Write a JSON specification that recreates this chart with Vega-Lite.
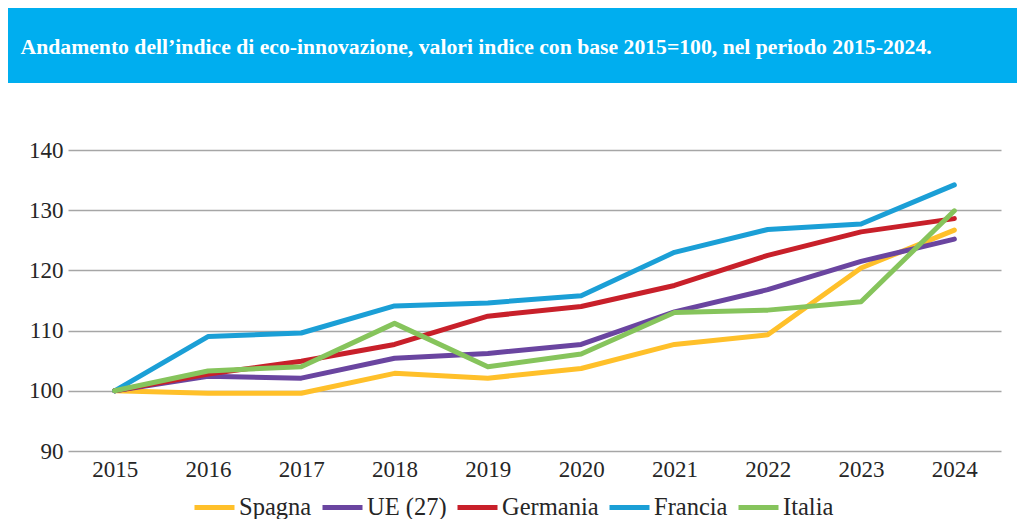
{
  "$schema": "https://vega.github.io/schema/vega-lite/v6.json",
  "padding": {"left": 8, "top": 8, "right": 0, "bottom": 0},
  "background": "white",
  "spacing": 56,
  "config": {"view": {"stroke": null}, "font": "Liberation Serif", "legend": {"layout": {"bottom": {"anchor": "middle"}}}},
  "vconcat": [
    {
      "width": 1009,
      "height": 75,
      "view": {"fill": "#00AEEF", "stroke": null},
      "data": {"values": [{"t": "Andamento dell’indice di eco-innovazione, valori indice con base 2015=100, nel periodo 2015-2024."}]},
      "mark": {"type": "text", "align": "left", "baseline": "middle", "font": "Liberation Serif", "fontWeight": "bold", "fontSize": 21.7, "color": "white", "dx": -492, "dy": 1},
      "encoding": {"text": {"field": "t"}}
    },
    {
      "spacing": 0,
      "hconcat": [
        {
          "width": 0,
          "height": 301,
          "data": {"values": []},
          "mark": {"type": "rule", "opacity": 0},
          "encoding": {}
        },
        {
          "width": 933,
          "height": 301,
          "data": {"values": [
            {"paese": "Spagna", "anno": "2015", "valore": 100},
            {"paese": "Spagna", "anno": "2016", "valore": 99.6},
            {"paese": "Spagna", "anno": "2017", "valore": 99.6},
            {"paese": "Spagna", "anno": "2018", "valore": 102.9},
            {"paese": "Spagna", "anno": "2019", "valore": 102.1},
            {"paese": "Spagna", "anno": "2020", "valore": 103.7},
            {"paese": "Spagna", "anno": "2021", "valore": 107.7},
            {"paese": "Spagna", "anno": "2022", "valore": 109.3},
            {"paese": "Spagna", "anno": "2023", "valore": 120.4},
            {"paese": "Spagna", "anno": "2024", "valore": 126.7},
            {"paese": "UE (27)", "anno": "2015", "valore": 100},
            {"paese": "UE (27)", "anno": "2016", "valore": 102.4},
            {"paese": "UE (27)", "anno": "2017", "valore": 102.1},
            {"paese": "UE (27)", "anno": "2018", "valore": 105.4},
            {"paese": "UE (27)", "anno": "2019", "valore": 106.2},
            {"paese": "UE (27)", "anno": "2020", "valore": 107.7},
            {"paese": "UE (27)", "anno": "2021", "valore": 113.1},
            {"paese": "UE (27)", "anno": "2022", "valore": 116.8},
            {"paese": "UE (27)", "anno": "2023", "valore": 121.5},
            {"paese": "UE (27)", "anno": "2024", "valore": 125.2},
            {"paese": "Germania", "anno": "2015", "valore": 100},
            {"paese": "Germania", "anno": "2016", "valore": 102.8},
            {"paese": "Germania", "anno": "2017", "valore": 104.9},
            {"paese": "Germania", "anno": "2018", "valore": 107.7},
            {"paese": "Germania", "anno": "2019", "valore": 112.4},
            {"paese": "Germania", "anno": "2020", "valore": 114.0},
            {"paese": "Germania", "anno": "2021", "valore": 117.5},
            {"paese": "Germania", "anno": "2022", "valore": 122.5},
            {"paese": "Germania", "anno": "2023", "valore": 126.4},
            {"paese": "Germania", "anno": "2024", "valore": 128.6},
            {"paese": "Francia", "anno": "2015", "valore": 100},
            {"paese": "Francia", "anno": "2016", "valore": 109.0},
            {"paese": "Francia", "anno": "2017", "valore": 109.6},
            {"paese": "Francia", "anno": "2018", "valore": 114.1},
            {"paese": "Francia", "anno": "2019", "valore": 114.6},
            {"paese": "Francia", "anno": "2020", "valore": 115.8},
            {"paese": "Francia", "anno": "2021", "valore": 123.0},
            {"paese": "Francia", "anno": "2022", "valore": 126.8},
            {"paese": "Francia", "anno": "2023", "valore": 127.7},
            {"paese": "Francia", "anno": "2024", "valore": 134.2},
            {"paese": "Italia", "anno": "2015", "valore": 100},
            {"paese": "Italia", "anno": "2016", "valore": 103.3},
            {"paese": "Italia", "anno": "2017", "valore": 104.0},
            {"paese": "Italia", "anno": "2018", "valore": 111.2},
            {"paese": "Italia", "anno": "2019", "valore": 104.0},
            {"paese": "Italia", "anno": "2020", "valore": 106.1},
            {"paese": "Italia", "anno": "2021", "valore": 113.0},
            {"paese": "Italia", "anno": "2022", "valore": 113.4},
            {"paese": "Italia", "anno": "2023", "valore": 114.8},
            {"paese": "Italia", "anno": "2024", "valore": 129.9}
          ]},
          "mark": {"type": "line", "strokeWidth": 5, "strokeCap": "round", "strokeJoin": "round"},
          "encoding": {
            "x": {"field": "anno", "type": "ordinal", "scale": {"type": "point", "padding": 0.5},
              "axis": {"title": null, "labelAngle": 0, "domain": false, "ticks": false, "labelFont": "Liberation Serif", "labelFontSize": 23, "labelColor": "#262626", "labelPadding": 7}},
            "y": {"field": "valore", "type": "quantitative", "scale": {"domain": [90, 140], "nice": false, "zero": false},
              "axis": {"title": null, "values": [90, 100, 110, 120, 130, 140], "domain": false, "ticks": false, "gridColor": "#A6A6A6", "gridWidth": 1.5, "labelFont": "Liberation Serif", "labelFontSize": 23, "labelColor": "#262626", "labelPadding": 5, "minExtent": 40, "maxExtent": 40}},
            "color": {"field": "paese", "type": "nominal",
              "scale": {"domain": ["Spagna", "UE (27)", "Germania", "Francia", "Italia"], "range": ["#FFC02A", "#6A45A0", "#C8202A", "#1B9FD6", "#86C45C"]},
              "legend": {"title": null, "orient": "bottom", "direction": "horizontal", "symbolType": "stroke", "symbolSize": 1600, "symbolStrokeWidth": 5, "labelFont": "Liberation Serif", "labelFontSize": 24.5, "labelColor": "#262626", "labelOffset": 2, "columnPadding": 0, "offset": 4}}
          }
        }
      ]
    }
  ]
}
